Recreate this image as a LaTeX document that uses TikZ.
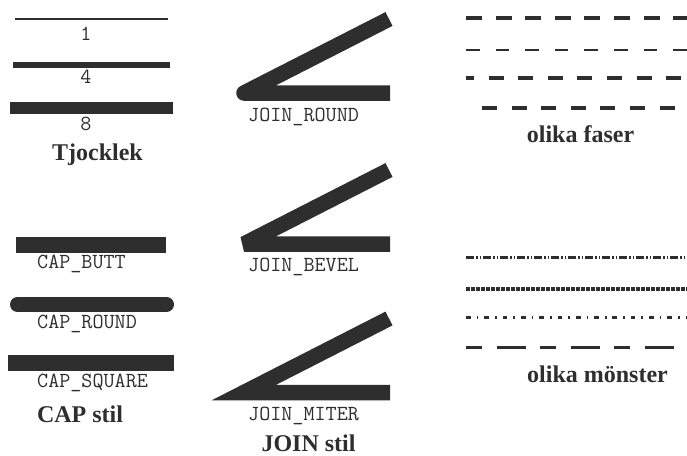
\documentclass[tikz,border=0pt]{standalone}
\usepackage{fontspec}
\setmainfont{Liberation Serif}
\definecolor{ink}{HTML}{2E2E2E}
\begin{document}
\begin{tikzpicture}[x=1pt,y=-1pt,
  sample/.style={draw=ink, line cap=butt},
  joinline/.style={draw=ink, line width=15.5pt, line cap=butt},
  lab/.style={text=ink, font=\ttfamily\fontsize{21.5}{21.5}\selectfont, inner sep=0pt, anchor=base west},
  num/.style={text=ink, font=\ttfamily\fontsize{21.5}{21.5}\selectfont, inner sep=0pt, anchor=base},
  titlelab/.style={text=ink, font=\bfseries\fontsize{24}{24}\selectfont, inner sep=0pt, anchor=base}]
\useasboundingbox (0,0) rectangle (687,455);

% thickness
\draw[sample, line width=1.5pt, line cap=rect] (16,19) -- (167,19);
\draw[sample, line width=5.5pt, line cap=rect] (16,65) -- (167,65);
\draw[sample, line width=11.5pt, line cap=rect] (16,108) -- (167,108);
\node[num] (n1) at (86,40.5) {1};
\node[num] (n4) at (86,83) {4};
\node[num] (n8) at (86,130) {8};
\node[titlelab] (tj) at (97.5,160.5) {Tjocklek};

% caps
\draw[sample, line width=16pt, line cap=butt] (16,244.5) -- (166,244.5);
\draw[sample, line width=15pt, line cap=round] (17.5,304.5) -- (166.5,304.5);
\draw[sample, line width=16pt, line cap=rect] (16,363) -- (166,363);
\node[lab] (cb) at (37,268) {CAP\_BUTT};
\node[lab] (cr) at (37,328) {CAP\_ROUND};
\node[lab] (cs) at (37,387) {CAP\_SQUARE};
\node[titlelab] (capstil) at (80,422) {CAP stil};

% joins
\draw[joinline, line join=round] (389,19) -- (244,93) -- (390,93);
\draw[joinline, line join=bevel] (389,170) -- (244,244) -- (390,244);
\draw[joinline, line join=miter] (389,318.5) -- (244,392.5) -- (390,392.5);
\node[lab] (jr) at (248,121.5) {JOIN\_ROUND};
\node[lab] (jb) at (248,271) {JOIN\_BEVEL};
\node[lab] (jm) at (248,420) {JOIN\_MITER};
\node[titlelab] (joinstil) at (308.5,451) {JOIN stil};

% phases
\draw[sample, line width=4pt, dash pattern=on 16pt off 13.6pt] (466,17.5) -- (687,17.5);
\draw[sample, line width=2pt, dash pattern=on 13.5pt off 16.1pt] (466,49.5) -- (687,49.5);
\draw[sample, line width=4pt, dash pattern=on 15pt off 14.6pt, dash phase=7pt] (466,78.3) -- (687,78.3);
\draw[sample, line width=4pt, dash pattern=on 15pt off 14.6pt] (482,108) -- (687,108);
\node[titlelab] (faser) at (580.5,142) {olika faser};

% patterns
\draw[sample, line width=3.5pt, dash pattern=on 8pt off 2pt on 1.5pt off 2pt on 1.5pt off 2pt] (466,257.5) -- (687,257.5);
\draw[sample, line width=3.5pt, dash pattern=on 3.8pt off 1.2pt] (466,289) -- (687,289);
\draw[sample, line width=2.5pt, dash pattern=on 4.7pt off 6pt on 1.7pt off 5.9pt] (466,317.7) -- (687,317.7);
\draw[sample, line width=2.5pt, dash pattern=on 16pt off 15pt on 29pt off 14pt] (466,347.7) -- (675,347.7);
\node[titlelab] (monster) at (597.5,382) {olika mönster};
\end{tikzpicture}
\end{document}
